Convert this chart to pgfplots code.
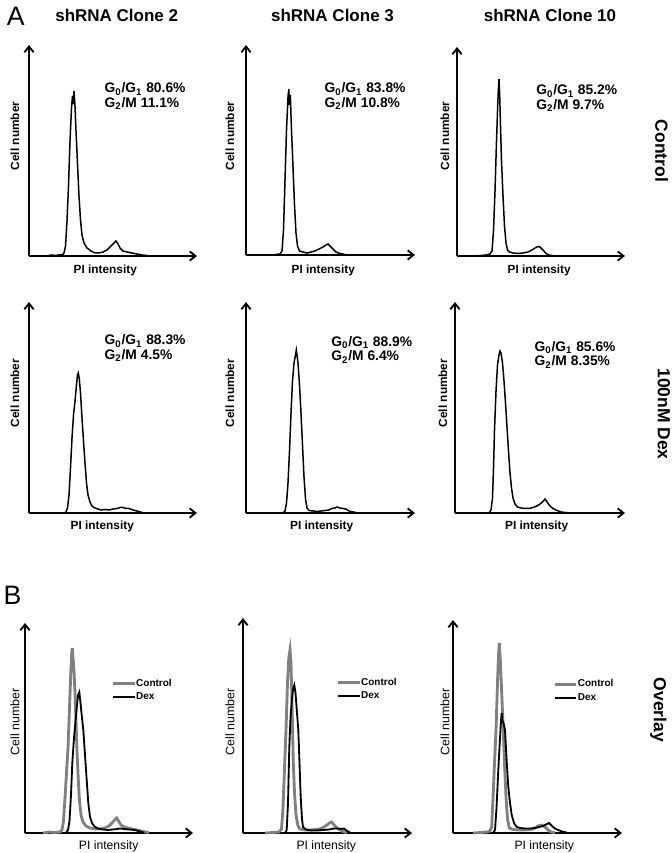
\documentclass[border=0pt]{standalone}
\usepackage{fontspec}
\setmainfont{Liberation Sans}
\usepackage{pgfplots}
\pgfplotsset{compat=1.18}
\usetikzlibrary{arrows.meta}

\definecolor{ctrlgray}{HTML}{808080}

% one pixel of the reference = 0.6pt
\pgfplotsset{
  hist/.style={
    axis lines=left,
    axis line style={line width=1.1pt, -{Straight Barb[length=3.5pt,width=5.5pt]}},
    x=0.6pt, y=0.6pt,
    xmin=0, ymin=0,
    xtick=\empty, ytick=\empty,
    clip=false,
    anchor=south west,
  },
  trace/.style={black, line width=0.9pt, mark=none},
  ctrl/.style={ctrlgray, line width=1.7pt, mark=none},
  dex/.style={black, line width=1.1pt, mark=none},
  overlay/.style={
    legend style={draw=none, fill=none, inner sep=0pt, row sep=2.6pt,
      font=\bfseries\fontsize{6}{6}\selectfont,
      nodes={inner sep=0pt, text height=4.4pt, text depth=1.2pt},
      anchor=west, at={(#1)}},
    legend cell align=left,
    legend image code/.code={\draw[##1] (0pt,0pt) -- (7.8pt,0pt); \path (0pt,0pt) -- (12.8pt,0pt);},
  },
}

\begin{document}
\begin{tikzpicture}
\useasboundingbox (0,0) rectangle (403.2pt,511.8pt);

% ---- row 1: control
\begin{axis}[hist, at={(29*0.6pt,597*0.6pt)}, xmax=168, ymax=211]
\addplot[trace] coordinates {
(18,0)(22,1)(26,0.5)(30,1)(33,1)(35,3)(36.5,10)(38,35)(39.5,70)(41,115)(42.5,148)(43.5,160)(44.2,152)(45,165)(46,150)(47,125)(48.5,92)(50,60)(51.5,36)(53,21)(55,13)(58,8)(62,5)(66,3)(70,3)(74,4)(78,6)(81,9)(84,12)(87,15)(89,12)(91,8)(94,5)(98,4)(103,3)(108,2)(113,1)(118,0.5)};
\end{axis}

\begin{axis}[hist, at={(246*0.6pt,598*0.6pt)}, xmax=169, ymax=210]
\addplot[trace] coordinates {
(26,0)(30,0.5)(34,1)(36,4)(37.5,25)(39,75)(40.5,125)(42,158)(42.8,166)(43.5,150)(44.3,160)(45.5,125)(47,88)(48.5,50)(50,22)(51.5,9)(53.5,4)(57,3)(61,2)(65,3)(69,4)(73,6)(77,8)(80,10)(82,11)(84,9)(87,6)(90,3)(94,1.5)(99,0.5)};
\end{axis}

\begin{axis}[hist, at={(457*0.6pt,597*0.6pt)}, xmax=168, ymax=209]
\addplot[trace] coordinates {
(19,0)(24,0.5)(29,1)(33,2)(35,5)(36.5,25)(38,65)(39.5,115)(40.5,145)(41.3,165)(42,177)(42.7,160)(43.5,130)(44.5,95)(46,60)(47.5,30)(49,13)(50.5,6)(52.5,4)(56,3)(61,2.5)(66,3)(71,4)(75,6)(78,8)(81,9.5)(83,9)(86,6)(89,2.5)(92,1)(96,0.3)};
\end{axis}

% ---- row 2: 100nM Dex
\begin{axis}[hist, at={(29*0.6pt,340*0.6pt)}, xmax=168, ymax=211]
\addplot[trace] coordinates {
(35,0)(37,1)(38.5,5)(40,18)(41.5,45)(43,75)(44.5,98)(46,112)(47.5,128)(48.5,138)(49.3,140)(50.3,134)(51.5,120)(53,95)(54.5,72)(56,50)(57.5,30)(59,18)(61,11)(63,7)(66,5)(69,4)(72,3)(76,3.5)(80,3)(84,4)(88,4.5)(91,5.5)(94,5.5)(97,4.5)(100,4.5)(104,3)(108,2)(112,0.8)(115,0)};
\end{axis}

\begin{axis}[hist, at={(246*0.6pt,340*0.6pt)}, xmax=169, ymax=211]
\addplot[trace] coordinates {
(37,0)(39,2)(40.5,10)(42,30)(43.5,62)(45,100)(46.5,132)(48,150)(49.5,158)(50.3,163)(51,158)(52,150)(53.5,128)(55,100)(56.5,68)(58,36)(59.5,14)(61,5)(63,2.5)(67,2)(71,1.5)(75,2)(79,2.5)(83,3)(86,4.5)(89,5)(91,6)(94,5)(97,4.5)(100,4)(103,2)(107,1)(111,0.3)};
\end{axis}

\begin{axis}[hist, at={(455*0.6pt,340*0.6pt)}, xmax=170, ymax=211]
\addplot[trace] coordinates {
(34,0)(36,3)(37.5,15)(38.5,45)(39.5,83)(41,122)(42.5,148)(44,158)(45,162)(46,160)(47.5,150)(49,132)(50.5,110)(52,86)(53.5,62)(55,40)(56.5,25)(58,15)(60,9)(62.5,6)(66,5)(70,4.5)(74,4.5)(78,5.5)(82,7)(85,9)(87.5,11)(90,14)(92,11)(95,7)(98,4.5)(102,2.5)(106,1)(112,0.3)(116,0)};
\end{axis}

% ---- row 3: overlay
\begin{axis}[hist, overlay={0.516,0.680}, at={(25*0.6pt,20*0.6pt)}, xmax=168, ymax=210]
\addplot[ctrl] coordinates {
(18,0)(24,1)(30,0.5)(35,1)(37,3)(38.5,12)(40,35)(41.5,60)(43,85)(44.5,125)(45.8,160)(46.7,180)(47.3,185)(48,175)(49,162)(50,140)(51,112)(52,82)(53.3,53)(54.5,32)(56,18)(58,11)(61,7)(65,5)(70,4)(75,4)(80,5)(84,7)(87,10)(89.5,13)(91.7,15)(93.5,12)(96,8)(99,6)(103,5)(107,4)(112,3)(118,1.5)(124,0.5)};
\addplot[dex] coordinates {
(41,0)(43,3)(44.5,12)(46,38)(47.3,70)(49,95)(50.5,112)(52,128)(53,138)(54.3,141)(55.5,130)(57,115)(58.3,103)(60,78)(61.7,53)(63.3,30)(65,16)(67,10)(69.5,6.5)(73,4.5)(78,3.5)(83,3)(88,3.5)(92,4)(95,4.5)(99,4)(104,3.5)(110,3)(115,1.5)(119,0.3)};
\legend{Control,Dex}
\end{axis}

\begin{axis}[hist, overlay={0.554,0.668}, at={(243*0.6pt,20*0.6pt)}, xmax=169, ymax=215]
\addplot[ctrl] coordinates {
(22,0)(30,0.5)(36,1)(38.5,4)(40,25)(41.5,65)(43,103)(44.5,150)(45.8,175)(47,183)(48,170)(49,130)(50.3,70)(51.5,40)(53,18)(55,7)(57,4)(62,3)(67,3)(72,3.5)(77,4)(81,6)(84,8)(86.5,10)(88.7,11)(91,8)(94,5)(97,3)(100,1.5)(104,0.3)};
\addplot[dex] coordinates {
(42,0)(43.7,3)(45,30)(46.3,86)(47.5,115)(49,135)(50.3,145)(51.3,148)(52.5,140)(54,120)(55.3,103)(56.5,70)(57.7,36)(59,14)(60,6)(63,3.5)(68,2.5)(74,2.5)(80,3)(86,3.5)(91,4.5)(95,4.5)(98,4)(101,4.5)(104,2)(107,0.5)};
\legend{Control,Dex}
\end{axis}

\begin{axis}[hist, overlay={0.594,0.667}, at={(453*0.6pt,20*0.6pt)}, xmax=169, ymax=213]
\addplot[ctrl] coordinates {
(20,0)(28,0.5)(34,1)(37,2)(38.7,6)(40,35)(41.5,70)(43,103)(44.5,150)(45.5,178)(46.3,190)(47.2,175)(48.3,150)(49.3,125)(50.3,103)(51.5,70)(53,36)(54.5,14)(56.3,5)(60,3.5)(66,3)(72,3)(78,3.5)(82,5)(85,7)(88.7,8)(92,6)(95,3)(98,1)(102,0.3)};
\addplot[dex] coordinates {
(40,0)(42,3)(43.5,25)(45.3,63)(47,95)(48,112)(48.7,120)(49.5,112)(50.5,110)(52,103)(53.5,75)(55.3,46)(57,30)(58.7,18)(61,10)(63.7,6)(67,5)(72,4.5)(77,4.5)(82,5)(86,6)(90,7)(93,8.5)(96,10)(99,7)(102,4.5)(105.3,3)(109,1.5)(113.7,0.5)};
\legend{Control,Dex}
\end{axis}

% ---- texts, placed in reference pixels (y downwards)
\begin{scope}[x=0.6pt, y=-0.6pt, yshift=511.8pt]
\node[font=\fontsize{16}{16}\selectfont] at (15.8,16.3) {A};
\node[font=\fontsize{16}{16}\selectfont] at (12.5,595.8) {B};

\tikzset{ttl/.style={font=\bfseries\fontsize{10.2}{12}\selectfont}}
\node[ttl] at (116.7,15) {shRNA Clone 2};
\node[ttl] at (332.5,15) {shRNA Clone 3};
\node[ttl] at (550,15) {shRNA Clone 10};

\tikzset{row/.style={rotate=-90, font=\bfseries\fontsize{10.5}{12}\selectfont}}
\node[row] at (661.7,150.8) {Control};
\node[row] at (664,414) {100nM Dex};
\node[row] at (658.3,710) {Overlay};

\tikzset{yl/.style={rotate=90, font=\bfseries\fontsize{7.1}{8}\selectfont},
         xl/.style={font=\bfseries\fontsize{7.1}{8}\selectfont},
         yl3/.style={rotate=90, font=\fontsize{7.4}{8}\selectfont},
         xl3/.style={font=\fontsize{7.3}{8}\selectfont}}
\node[yl] at (15,136) {Cell number};
\node[yl] at (230,136) {Cell number};
\node[yl] at (445,136) {Cell number};
\node[yl] at (15,393) {Cell number};
\node[yl] at (230,393) {Cell number};
\node[yl] at (443,393) {Cell number};
\node[yl3] at (15,722) {Cell number};
\node[yl3] at (230,722) {Cell number};
\node[yl3] at (445,722) {Cell number};

\node[xl] at (105.3,270) {PI intensity};
\node[xl] at (323.3,270) {PI intensity};
\node[xl] at (539.2,270.7) {PI intensity};
\node[xl] at (102.3,526.7) {PI intensity};
\node[xl] at (321.7,526.7) {PI intensity};
\node[xl] at (536.7,526) {PI intensity};
\node[xl3] at (108.7,846.7) {PI intensity};
\node[xl3] at (326.3,846.7) {PI intensity};
\node[xl3] at (544.3,846.7) {PI intensity};

\tikzset{pct/.style={anchor=base west, inner sep=0pt, font=\bfseries\fontsize{8.3}{9}\selectfont}}
\node[pct] at (104.3,93) {G\textsubscript{0}/G\textsubscript{1} 80.6\%};
\node[pct] at (104.3,107.5) {G\textsubscript{2}/M 11.1\%};
\node[pct] at (324.3,93) {G\textsubscript{0}/G\textsubscript{1} 83.8\%};
\node[pct] at (324.3,107.5) {G\textsubscript{2}/M 10.8\%};
\node[pct] at (536,95) {G\textsubscript{0}/G\textsubscript{1} 85.2\%};
\node[pct] at (536,109.5) {G\textsubscript{2}/M 9.7\%};
\node[pct] at (104.3,345) {G\textsubscript{0}/G\textsubscript{1} 88.3\%};
\node[pct] at (104.3,359.5) {G\textsubscript{2}/M 4.5\%};
\node[pct] at (331,346.5) {G\textsubscript{0}/G\textsubscript{1} 88.9\%};
\node[pct] at (331,361) {G\textsubscript{2}/M 6.4\%};
\node[pct] at (534.3,351.5) {G\textsubscript{0}/G\textsubscript{1} 85.6\%};
\node[pct] at (534.3,366) {G\textsubscript{2}/M 8.35\%};
\end{scope}
\end{tikzpicture}
\end{document}
